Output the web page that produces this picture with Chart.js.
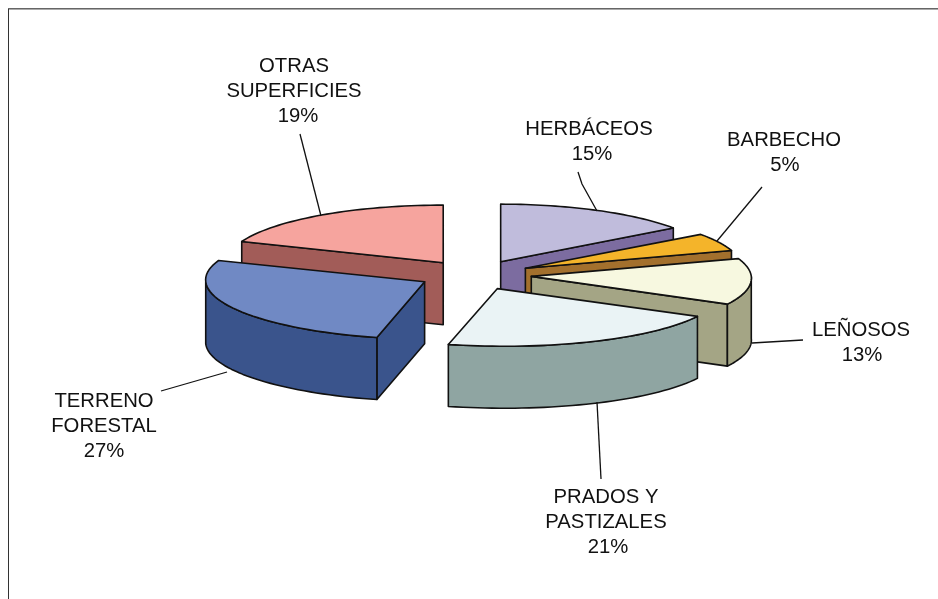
<!DOCTYPE html>
<html>
<head>
<meta charset="utf-8">
<style>
  html, body { margin: 0; padding: 0; background: #fff; overflow: hidden; }
  #wrap { position: absolute; left: 0; top: 0; width: 938px; height: 599px; }
</style>
<script src="https://cdn.jsdelivr.net/npm/chart.js@4/dist/chart.umd.min.js"></script>
</head>
<body>
<div id="wrap"><canvas id="chart" width="938" height="599"></canvas></div>
<script>
const categories = [
  ["HERBÁCEOS"],
  ["BARBECHO"],
  ["LEÑOSOS"],
  ["PRADOS Y", "PASTIZALES"],
  ["TERRENO", "FORESTAL"],
  ["OTRAS", "SUPERFICIES"],
];
const percentages = [15, 5, 13, 21, 27, 19];
const topColors = ["#c0bcdc", "#f4b42a", "#f7f8e0", "#eaf3f5", "#7089c4", "#f6a49e"];
const sideColors = ["#7c6ca0", "#a3702d", "#a4a585", "#8fa5a2", "#3a548c", "#a25c58"];

// label anchor (centre of the text block, first line baseline) and leader line
const labelAt = [
  { x: 589, y: 135, pctDx: 3, line: [[578, 172], [582, 184], [597, 211]] },
  { x: 784, y: 146, pctDx: 1, line: [[762, 187], [717, 241]] },
  { x: 861, y: 336, pctDx: 1, line: [[803, 340], [752, 343]] },
  { x: 606, y: 503, pctDx: 2, line: [[601, 479], [597, 402]] },
  { x: 104, y: 407, pctDx: 0, line: [[161, 391], [227, 372]] },
  { x: 294, y: 72, pctDx: 4, line: [[300, 134], [321, 216]] },
];

const squash = 0.262;     // tilt of the pie
const explode = 0.257;    // gap of each slice, share of radius
const depth = 62;
// the original has some perspective, faked per slice
const rimScale = [0.97, 0.985, 1, 1.02, 0.995, 0.985];
const rimSkew = [0, 0, 0.12, 0.12, 0.12, 0];

const fontText = '20.3px "Liberation Sans", Arial, sans-serif';

function mid(arc) {
  return (arc.startAngle + arc.endAngle) / 2;
}

const pie3d = {
  id: "pie3d",
  beforeDatasetDraw(chart, args) {
    const ctx = chart.ctx;
    const arcs = args.meta.data.map((arc, i) => ({ arc, i }));
    // back to front
    arcs.sort((a, b) => Math.sin(mid(a.arc)) - Math.sin(mid(b.arc)));

    arcs.forEach(({ arc, i }) => {
      const r = arc.outerRadius;
      const a0 = arc.startAngle;
      const a1 = arc.endAngle;
      const m = mid(arc);
      const ax = arc.x + Math.cos(m) * r * explode;
      const ay = arc.y + Math.sin(m) * r * explode * squash;
      const ex = (t) => ax + Math.cos(t) * r * rimScale[i] + Math.sin(t) * r * squash * rimSkew[i];
      const ey = (t) => ay + Math.sin(t) * r * squash;
      const rim = (from, to, dy) => {
        for (let n = 0; n <= 40; n++) {
          const t = from + ((to - from) * n) / 40;
          ctx.lineTo(ex(t), ey(t) + dy);
        }
      };

      ctx.save();
      ctx.lineWidth = 1.6;
      ctx.lineJoin = "round";
      ctx.strokeStyle = "#111";
      ctx.fillStyle = sideColors[i];

      // flat walls, only the ones facing the viewer
      [[a0, -Math.cos(a0)], [a1, Math.cos(a1)]].forEach(([t, facing]) => {
        if (facing <= 0.001) return;
        ctx.beginPath();
        ctx.moveTo(ax, ay);
        ctx.lineTo(ex(t), ey(t));
        ctx.lineTo(ex(t), ey(t) + depth);
        ctx.lineTo(ax, ay + depth);
        ctx.closePath();
        ctx.fill();
        ctx.stroke();
      });

      // round wall, front half of the rim
      const TAU = Math.PI * 2;
      for (let k = -1; k <= 1; k++) {
        const from = Math.max(a0, k * TAU);
        const to = Math.min(a1, k * TAU + Math.PI);
        if (to <= from) continue;
        ctx.beginPath();
        rim(from, to, 0);
        rim(to, from, depth);
        ctx.closePath();
        ctx.fill();
        ctx.stroke();
      }

      // top face, the library's own arc under a tilt
      ctx.save();
      ctx.translate(ax, ay);
      ctx.transform(rimScale[i], 0, rimSkew[i] * squash, squash, 0, 0);
      ctx.translate(-arc.x, -arc.y);
      arc.draw(ctx);
      ctx.restore();

      ctx.beginPath();
      ctx.moveTo(ax, ay);
      rim(a0, a1, 0);
      ctx.closePath();
      ctx.stroke();
      ctx.restore();
    });
    return false;
  },
  afterDraw(chart) {
    const ctx = chart.ctx;
    ctx.save();

    // chart frame, only top and left show
    ctx.fillStyle = "#666";
    ctx.fillRect(8, 8, 930, 1);
    ctx.fillStyle = "#aaa";
    ctx.fillRect(8, 9, 930, 1);
    ctx.fillStyle = "#333";
    ctx.fillRect(8, 9, 1, 590);

    // leader lines
    ctx.strokeStyle = "#111";
    ctx.lineWidth = 1.3;
    labelAt.forEach((l) => {
      ctx.beginPath();
      l.line.forEach(([x, y], n) => (n ? ctx.lineTo(x, y) : ctx.moveTo(x, y)));
      ctx.stroke();
    });

    // labels
    ctx.fillStyle = "#111";
    ctx.font = fontText;
    ctx.textAlign = "center";
    ctx.textBaseline = "alphabetic";
    labelAt.forEach((l, i) => {
      categories[i].forEach((t, n) => ctx.fillText(t, l.x, l.y + n * 25));
      ctx.fillText(percentages[i] + "%", l.x + l.pctDx, l.y + categories[i].length * 25);
    });
    ctx.restore();
  },
};

new Chart(document.getElementById("chart").getContext("2d"), {
  type: "pie",
  plugins: [pie3d],
  data: {
    labels: categories,
    datasets: [
      {
        data: percentages,
        backgroundColor: topColors,
        borderWidth: 0,
      },
    ],
  },
  options: {
    responsive: false,
    animation: false,
    radius: 220,
    layout: { padding: { left: 12, bottom: 49 } },
    plugins: {
      legend: { display: false },
      tooltip: { enabled: false },
    },
  },
});
</script>
</body>
</html>
